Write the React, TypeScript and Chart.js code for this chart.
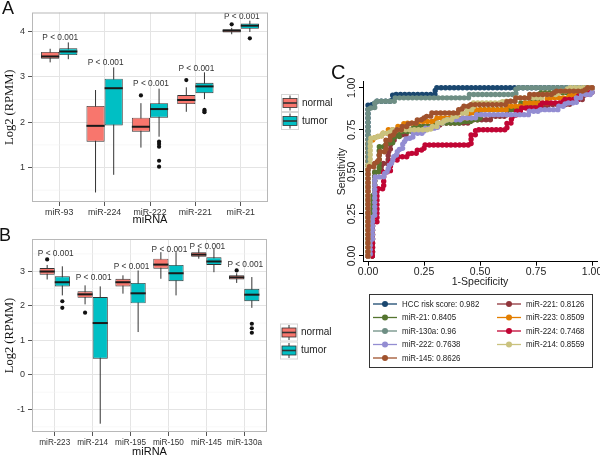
import React, { useEffect, useRef } from "react";
import { Chart, registerables } from "chart.js";

Chart.register(...registerables);

// ---------------- Panel A data ----------------
const catsA = ["miR-93", "miR-224", "miR-222", "miR-221", "miR-21"];
const aNormLow = [3.32, 0.45, 1.44, 2.23, 3.94];
const aNormQ1 = [3.40, 1.57, 1.79, 2.40, 3.98];
const aNormMed = [3.45, 1.92, 1.90, 2.49, 4.02];
const aNormQ3 = [3.55, 2.36, 2.10, 2.60, 4.05];
const aNormHigh = [3.62, 2.71, 2.42, 2.77, 4.08];
const aNormOut = [[], [], [2.59], [2.93], [4.16]];
const aTumLow = [3.39, 0.84, 1.68, 2.51, 3.99];
const aTumQ1 = [3.48, 1.93, 2.10, 2.64, 4.06];
const aTumMed = [3.56, 2.75, 2.29, 2.79, 4.13];
const aTumQ3 = [3.63, 2.96, 2.42, 2.87, 4.18];
const aTumHigh = [3.76, 3.21, 2.74, 3.10, 4.24];
const aTumOut = [[], [], [1.57, 1.52, 1.46, 1.15, 1.02], [2.27, 2.25, 2.22], [3.85]];
const aPLabelY = [3.87, 3.31, 2.86, 3.18, 4.32];
const aYTicks = [1, 2, 3, 4];
const aYMinor = [0.5, 1.5, 2.5, 3.5];

// ---------------- Panel B data ----------------
const catsB = ["miR-223", "miR-214", "miR-195", "miR-150", "miR-145", "miR-130a"];
const bNormLow = [2.76, 2.04, 2.35, 2.78, 3.36, 2.66];
const bNormQ1 = [2.90, 2.23, 2.56, 3.07, 3.42, 2.76];
const bNormMed = [2.99, 2.33, 2.68, 3.19, 3.48, 2.82];
const bNormQ3 = [3.09, 2.42, 2.78, 3.36, 3.55, 2.88];
const bNormHigh = [3.18, 2.59, 2.88, 3.55, 3.66, 2.94];
const bNormOut = [[3.34], [1.80], [], [], [], [3.02]];
const bTumLow = [2.30, -1.41, 1.24, 2.30, 2.97, 1.94];
const bTumQ1 = [2.56, 0.47, 2.07, 2.71, 3.18, 2.13];
const bTumMed = [2.68, 1.50, 2.36, 2.94, 3.28, 2.32];
const bTumQ3 = [2.85, 2.25, 2.66, 3.18, 3.40, 2.49];
const bTumHigh = [3.14, 2.56, 3.02, 3.55, 3.65, 2.83];
const bTumOut = [[2.13, 1.94], [], [], [], [], [1.48, 1.35, 1.22]];
const bPLabelY = [3.50, 2.81, 3.14, 3.63, 3.72, 3.18];
const bYTicks = [-1, 0, 1, 2, 3];
const bYMinor = [-1.5, -0.5, 0.5, 1.5, 2.5, 3.5];

const groupNames = ["normal", "tumor"];
const pText = "P < 0.001";

// ---------------- Panel C data (ROC: [1-specificity, sensitivity]) ----------------
const rocNames = ["HCC risk score", "miR-221", "miR-21", "miR-223", "miR-130a", "miR-224", "miR-222", "miR-214", "miR-145"];
const rocAuc = ["0.982", "0.8126", "0.8405", "0.8509", "0.96", "0.7468", "0.7638", "0.8559", "0.8626"];
const rocHCC = [[0, 0], [0, 0.90], [0.03, 0.92], [0.11, 0.96], [0.30, 1], [1, 1]];
const rocMiR221 = [[0, 0], [0.02, 0.30], [0.03, 0.50], [0.06, 0.55], [0.09, 0.62], [0.10, 0.69], [0.12, 0.72], [0.17, 0.75], [0.22, 0.77], [0.32, 0.79], [0.45, 0.81], [0.55, 0.83], [0.62, 0.87], [0.68, 0.89], [0.80, 0.90], [0.90, 0.93], [0.96, 0.97], [1, 1]];
const rocMiR21 = [[0, 0], [0.02, 0.37], [0.03, 0.50], [0.05, 0.65], [0.08, 0.67], [0.11, 0.71], [0.14, 0.74], [0.20, 0.77], [0.30, 0.79], [0.42, 0.80], [0.46, 0.81], [0.50, 0.87], [0.68, 0.91], [0.72, 0.93], [0.76, 0.97], [0.90, 0.98], [0.97, 1], [1, 1]];
const rocMiR223 = [[0, 0], [0, 0.69], [0.03, 0.71], [0.06, 0.73], [0.09, 0.75], [0.13, 0.77], [0.16, 0.79], [0.22, 0.80], [0.30, 0.82], [0.45, 0.85], [0.48, 0.87], [0.62, 0.89], [0.70, 0.91], [0.80, 0.94], [0.90, 0.96], [0.97, 1], [1, 1]];
const rocMiR130a = [[0, 0], [0, 0.88], [0.03, 0.92], [0.12, 0.94], [0.45, 0.96], [0.66, 1], [1, 1]];
const rocMiR224 = [[0, 0], [0.02, 0.20], [0.04, 0.40], [0.07, 0.50], [0.10, 0.57], [0.13, 0.59], [0.18, 0.61], [0.22, 0.63], [0.25, 0.66], [0.46, 0.72], [0.48, 0.75], [0.62, 0.79], [0.64, 0.83], [0.66, 0.86], [0.68, 0.88], [0.77, 0.91], [0.87, 0.93], [0.94, 0.96], [0.99, 1], [1, 1]];
const rocMiR222 = [[0, 0], [0.01, 0.10], [0.02, 0.24], [0.03, 0.47], [0.07, 0.49], [0.085, 0.52], [0.095, 0.55], [0.105, 0.57], [0.115, 0.60], [0.13, 0.62], [0.14, 0.64], [0.155, 0.68], [0.17, 0.70], [0.20, 0.73], [0.25, 0.76], [0.31, 0.79], [0.34, 0.81], [0.42, 0.82], [0.48, 0.84], [0.72, 0.86], [0.77, 0.87], [0.85, 0.89], [0.88, 0.91], [0.93, 0.94], [0.95, 0.96], [1, 1]];
const rocMiR214 = [[0, 0], [0, 0.55], [0.01, 0.70], [0.03, 0.71], [0.06, 0.73], [0.10, 0.75], [0.28, 0.77], [0.31, 0.79], [0.34, 0.81], [0.38, 0.83], [0.40, 0.85], [0.44, 0.87], [0.47, 0.91], [0.60, 0.92], [0.66, 0.94], [0.78, 0.96], [0.85, 0.98], [0.89, 1], [1, 1]];
const rocMiR145 = [[0, 0], [0, 0.53], [0.03, 0.56], [0.05, 0.62], [0.08, 0.69], [0.10, 0.72], [0.12, 0.75], [0.15, 0.77], [0.18, 0.79], [0.22, 0.81], [0.25, 0.83], [0.28, 0.85], [0.40, 0.87], [0.42, 0.89], [0.45, 0.90], [0.62, 0.92], [0.66, 0.94], [0.72, 0.96], [0.83, 0.98], [0.97, 1], [1, 1]];
const rocSeries = [rocHCC, rocMiR221, rocMiR21, rocMiR223, rocMiR130a, rocMiR224, rocMiR222, rocMiR214, rocMiR145];
const cTicks = [0, 0.25, 0.5, 0.75, 1];

// ---------------- styles ----------------
const W = 620;
const H = 470;
const SANS = '"Liberation Sans", Arial, Helvetica, sans-serif';
const SERIF = '"Liberation Serif", "Times New Roman", serif';
const GROUP_COLORS = ["#F8766D", "#00BFC4"];
const ROC_COLORS = ["#1a476f", "#90353b", "#55752f", "#e37e00", "#6e8e84", "#c10534", "#938dd2", "#cac27e", "#a0522d"];

type Stats = { low: number[]; q1: number[]; med: number[]; q3: number[]; high: number[]; out: number[][] };
type BoxCfg = {
  cats: string[];
  stats: Stats[];
  pY: number[];
  yTicks: number[];
  yMinor: number[];
  yMin: number;
  yMax: number;
  area: { left: number; top: number; right: number; bottom: number };
  xAxisH: number;
  xFont: number;
  legendCY: number;
};

const cfgA: BoxCfg = {
  cats: catsA,
  stats: [
    { low: aNormLow, q1: aNormQ1, med: aNormMed, q3: aNormQ3, high: aNormHigh, out: aNormOut },
    { low: aTumLow, q1: aTumQ1, med: aTumMed, q3: aTumQ3, high: aTumHigh, out: aTumOut },
  ],
  pY: aPLabelY,
  yTicks: aYTicks,
  yMinor: aYMinor,
  yMin: 0.24,
  yMax: 4.42,
  area: { left: 32, top: 12.5, right: 268, bottom: 202 },
  xAxisH: 25,
  xFont: 8.8,
  legendCY: 112,
};

const cfgB: BoxCfg = {
  cats: catsB,
  stats: [
    { low: bNormLow, q1: bNormQ1, med: bNormMed, q3: bNormQ3, high: bNormHigh, out: bNormOut },
    { low: bTumLow, q1: bTumQ1, med: bTumMed, q3: bTumQ3, high: bTumHigh, out: bTumOut },
  ],
  pY: bPLabelY,
  yTicks: bYTicks,
  yMinor: bYMinor,
  yMin: -1.65,
  yMax: 3.93,
  area: { left: 32, top: 239, right: 267, bottom: 432 },
  xAxisH: 26.6,
  xFont: 8.2,
  legendCY: 341.5,
};

function boxPlugin(cfg: BoxCfg) {
  return {
    id: "boxExtras",
    beforeDatasetsDraw(chart: any) {
      const { ctx, chartArea: ca, scales } = chart;
      const y = scales.y;
      ctx.save();
      ctx.strokeStyle = "#f1f1f1";
      ctx.lineWidth = 0.6;
      cfg.yMinor.forEach((v) => {
        const py = y.getPixelForValue(v);
        if (py < ca.top || py > ca.bottom) return;
        ctx.beginPath();
        ctx.moveTo(ca.left, py);
        ctx.lineTo(ca.right, py);
        ctx.stroke();
      });
      ctx.strokeStyle = "#333";
      ctx.lineWidth = 1;
      chart.data.datasets.forEach((_: any, di: number) => {
        const meta = chart.getDatasetMeta(di);
        const st = cfg.stats[di];
        meta.data.forEach((bar: any, i: number) => {
          ctx.beginPath();
          ctx.moveTo(bar.x, y.getPixelForValue(st.low[i]));
          ctx.lineTo(bar.x, y.getPixelForValue(st.high[i]));
          ctx.stroke();
        });
      });
      ctx.restore();
    },
    afterDatasetsDraw(chart: any) {
      const { ctx, chartArea: ca, scales } = chart;
      const y = scales.y;
      const x = scales.x;
      ctx.save();
      chart.data.datasets.forEach((_: any, di: number) => {
        const meta = chart.getDatasetMeta(di);
        const st = cfg.stats[di];
        meta.data.forEach((bar: any, i: number) => {
          const pm = y.getPixelForValue(st.med[i]);
          ctx.strokeStyle = "#1a1a1a";
          ctx.lineWidth = 2;
          ctx.beginPath();
          ctx.moveTo(bar.x - bar.width / 2, pm);
          ctx.lineTo(bar.x + bar.width / 2, pm);
          ctx.stroke();
          ctx.fillStyle = "#111";
          st.out[i].forEach((v) => {
            ctx.beginPath();
            ctx.arc(bar.x, y.getPixelForValue(v), 2.1, 0, Math.PI * 2);
            ctx.fill();
          });
        });
      });
      ctx.fillStyle = "#333";
      ctx.font = `8.3px ${SANS}`;
      ctx.textAlign = "center";
      ctx.textBaseline = "middle";
      cfg.cats.forEach((_, i) => {
        ctx.fillText(pText, x.getPixelForValue(i + 1) + 1, y.getPixelForValue(cfg.pY[i]));
      });
      ctx.strokeStyle = "#b8b8b8";
      ctx.lineWidth = 1;
      ctx.strokeRect(ca.left + 0.5, ca.top + 0.5, ca.right - ca.left - 1, ca.bottom - ca.top - 1);
      ctx.restore();
    },
    afterDraw(chart: any) {
      const { ctx, chartArea: ca } = chart;
      const ks = 18;
      const kx = ca.right + 13;
      const top = cfg.legendCY - ks;
      ctx.save();
      groupNames.forEach((name, k) => {
        const y0 = top + k * ks;
        ctx.fillStyle = "#fff";
        ctx.fillRect(kx, y0, ks, ks);
        ctx.strokeStyle = "#d6d6d6";
        ctx.lineWidth = 1;
        ctx.strokeRect(kx + 0.5, y0 + 0.5, ks - 1, ks - 1);
        ctx.strokeStyle = "#333";
        ctx.beginPath();
        ctx.moveTo(kx + ks / 2, y0 + 1.5);
        ctx.lineTo(kx + ks / 2, y0 + ks - 1.5);
        ctx.stroke();
        ctx.fillStyle = GROUP_COLORS[k];
        ctx.fillRect(kx + 2, y0 + ks * 0.25, ks - 4, ks * 0.5);
        ctx.lineWidth = 0.8;
        ctx.strokeRect(kx + 2, y0 + ks * 0.25, ks - 4, ks * 0.5);
        ctx.lineWidth = 1.6;
        ctx.beginPath();
        ctx.moveTo(kx + 2, y0 + ks / 2);
        ctx.lineTo(kx + ks - 2, y0 + ks / 2);
        ctx.stroke();
        ctx.fillStyle = "#222";
        ctx.font = `10px ${SANS}`;
        ctx.textAlign = "left";
        ctx.textBaseline = "middle";
        ctx.fillText(name, kx + ks + 3, y0 + ks / 2);
      });
      ctx.restore();
    },
  };
}

function makeBoxChart(canvas: HTMLCanvasElement, cfg: BoxCfg) {
  const n = cfg.cats.length;
  const mk = (st: Stats, k: number) => ({
    label: groupNames[k],
    data: cfg.cats.map((_, i) => ({ x: i + 1, y: [st.q1[i], st.q3[i]] })),
    backgroundColor: GROUP_COLORS[k],
    borderColor: "#333",
    borderWidth: 0.9,
    borderSkipped: false,
    categoryPercentage: 0.8,
    barPercentage: 1,
  });
  return new Chart(canvas, {
    type: "bar",
    data: { datasets: [mk(cfg.stats[0], 0), mk(cfg.stats[1], 1)] as any },
    options: {
      responsive: false,
      animation: false,
      events: [],
      layout: {
        padding: { left: 0, top: cfg.area.top, right: W - cfg.area.right, bottom: H - cfg.area.bottom - cfg.xAxisH },
      },
      plugins: { legend: { display: false }, tooltip: { enabled: false } },
      scales: {
        x: {
          type: "linear",
          min: 0.4,
          max: n + 0.6,
          offset: false,
          afterBuildTicks: (s: any) => {
            s.ticks = cfg.cats.map((_, i) => ({ value: i + 1 }));
          },
          afterFit: (s: any) => {
            s.height = cfg.xAxisH;
            s.paddingLeft = 0;
            s.paddingRight = 0;
          },
          ticks: {
            callback: (v: any) => cfg.cats[Math.round(Number(v)) - 1] ?? "",
            font: { family: SANS, size: cfg.xFont },
            color: "#333",
            padding: 1.5,
            maxRotation: 0,
            minRotation: 0,
            autoSkip: false,
          },
          grid: { color: "#e4e4e4", lineWidth: 1, tickColor: "#555", tickLength: 4, offset: false },
          border: { display: false },
          title: { display: true, text: "miRNA", font: { family: SANS, size: 11 }, color: "#111", padding: 0 },
        },
        y: {
          type: "linear",
          min: cfg.yMin,
          max: cfg.yMax,
          afterBuildTicks: (s: any) => {
            s.ticks = cfg.yTicks.map((v) => ({ value: v }));
          },
          afterFit: (s: any) => {
            s.width = cfg.area.left;
            s.paddingTop = 0;
            s.paddingBottom = 0;
          },
          ticks: { font: { family: SANS, size: 9 }, color: "#333", padding: 3, callback: (v: any) => String(v) },
          grid: { color: "#e4e4e4", lineWidth: 1, tickColor: "#555", tickLength: 4 },
          border: { display: false },
          title: {
            display: true,
            text: "Log2 (RPMM)",
            font: { family: SERIF, size: 12.5 },
            color: "#111",
            padding: { top: 2, bottom: 0 },
          },
        },
      } as any,
    },
    plugins: [boxPlugin(cfg) as any],
  });
}

const rocPlugin = {
  id: "rocExtras",
  afterDraw(chart: any) {
    const { ctx, chartArea: ca, scales } = chart;
    const y = scales.y;
    ctx.save();
    ctx.fillStyle = "#222";
    ctx.font = `10.5px ${SANS}`;
    ctx.textAlign = "center";
    ctx.textBaseline = "middle";
    cTicks.forEach((v) => {
      ctx.save();
      ctx.translate(ca.left - 11, y.getPixelForValue(v));
      ctx.rotate(-Math.PI / 2);
      ctx.fillText(v.toFixed(2), 0, 0);
      ctx.restore();
    });
    // legend box
    const bx = 369, by = 294, bw = 223, bh = 73;
    ctx.strokeStyle = "#333";
    ctx.lineWidth = 1;
    ctx.strokeRect(bx + 0.5, by + 0.5, bw, bh);
    ctx.font = `9.2px ${SANS}`;
    ctx.textAlign = "left";
    rocNames.forEach((name, i) => {
      const col = i % 2;
      const row = Math.floor(i / 2);
      const ly = by + 10 + row * 13.5;
      const lx = bx + 4 + col * 124;
      ctx.strokeStyle = ROC_COLORS[i];
      ctx.lineWidth = 1.3;
      ctx.beginPath();
      ctx.moveTo(lx, ly);
      ctx.lineTo(lx + 24, ly);
      ctx.stroke();
      ctx.fillStyle = ROC_COLORS[i];
      ctx.beginPath();
      ctx.arc(lx + 12, ly, 3, 0, Math.PI * 2);
      ctx.fill();
      ctx.fillStyle = "#222";
      ctx.save();
      ctx.translate(lx + 29, ly);
      ctx.scale(0.86, 1);
      ctx.fillText(`${name}: ${rocAuc[i]}`, 0, 0);
      ctx.restore();
    });
    ctx.restore();
  },
};

function makeRocChart(canvas: HTMLCanvasElement) {
  const n = rocSeries.length;
  const left = 363, right = 597, top = 81.7, bottom = 261.7;
  const xh = 26.3, yw = 30;
  return new Chart(canvas, {
    type: "line",
    data: {
      datasets: rocSeries.map((pts, i) => ({
        label: rocNames[i],
        data: pts.map(([fx, ty]) => ({ x: fx, y: ty })),
        borderColor: ROC_COLORS[i],
        backgroundColor: ROC_COLORS[i],
        borderWidth: 5.4,
        borderDash: [0.01, 4.3],
        borderCapStyle: "round",
        borderJoinStyle: "round",
        pointRadius: 0,
        stepped: "before",
        fill: false,
        order: n - i,
      })) as any,
    },
    options: {
      responsive: false,
      animation: false,
      events: [],
      layout: { padding: { left: left - yw, top, right: W - right, bottom: H - bottom - xh } },
      plugins: { legend: { display: false }, tooltip: { enabled: false } },
      scales: {
        x: {
          type: "linear",
          min: -(5 / 223.4),
          max: 1.022,
          afterBuildTicks: (s: any) => {
            s.ticks = cTicks.map((v) => ({ value: v }));
          },
          afterFit: (s: any) => {
            s.height = xh;
            s.paddingLeft = 0;
            s.paddingRight = 0;
          },
          ticks: {
            callback: (v: any) => Number(v).toFixed(2),
            font: { family: SANS, size: 10.5 },
            color: "#222",
            padding: 0,
            maxRotation: 0,
            minRotation: 0,
            autoSkip: false,
          },
          grid: { drawOnChartArea: false, drawTicks: true, tickLength: 4, tickColor: "#000", tickWidth: 1 },
          border: { display: true, color: "#000", width: 1 },
          title: { display: true, text: "1-Specificity", font: { family: SANS, size: 10.5 }, color: "#222", padding: 0 },
        },
        y: {
          type: "linear",
          min: -0.034,
          max: 1.036,
          afterBuildTicks: (s: any) => {
            s.ticks = cTicks.map((v) => ({ value: v }));
          },
          afterFit: (s: any) => {
            s.width = yw;
            s.paddingTop = 0;
            s.paddingBottom = 0;
          },
          ticks: { display: false },
          grid: { drawOnChartArea: false, drawTicks: true, tickLength: 4, tickColor: "#000", tickWidth: 1 },
          border: { display: true, color: "#000", width: 1 },
          title: {
            display: true,
            text: "Sensitivity",
            font: { family: SANS, size: 10.5 },
            color: "#222",
            padding: { top: 2.4, bottom: 0 },
          },
        },
      } as any,
    },
    plugins: [rocPlugin as any],
  });
}

function ChartCanvas({ make }: { make: (c: HTMLCanvasElement) => Chart }) {
  const ref = useRef<HTMLCanvasElement | null>(null);
  useEffect(() => {
    if (!ref.current) return;
    const chart = make(ref.current);
    return () => chart.destroy();
  }, [make]);
  return (
    <canvas
      ref={ref}
      width={W}
      height={H}
      style={{ position: "absolute", left: 0, top: 0, width: W, height: H, display: "block" }}
    />
  );
}

const makeA = (c: HTMLCanvasElement) => makeBoxChart(c, cfgA);
const makeB = (c: HTMLCanvasElement) => makeBoxChart(c, cfgB);

const letterStyle = (left: number, top: number, size: number): React.CSSProperties => ({
  position: "absolute",
  left,
  top,
  fontFamily: SANS,
  fontSize: size,
  lineHeight: "normal",
  color: "#111",
});

export default function App() {
  return (
    <div
      style={{
        position: "fixed",
        left: 0,
        top: 0,
        width: 600,
        height: 455,
        overflow: "hidden",
        background: "#fff",
      }}
    >
      <ChartCanvas make={makeA} />
      <ChartCanvas make={makeB} />
      <ChartCanvas make={makeRocChart} />
      <div style={letterStyle(2, -1.7, 18)}>A</div>
      <div style={letterStyle(-1, 225, 18)}>B</div>
      <div style={letterStyle(331, 61, 20)}>C</div>
    </div>
  );
}
